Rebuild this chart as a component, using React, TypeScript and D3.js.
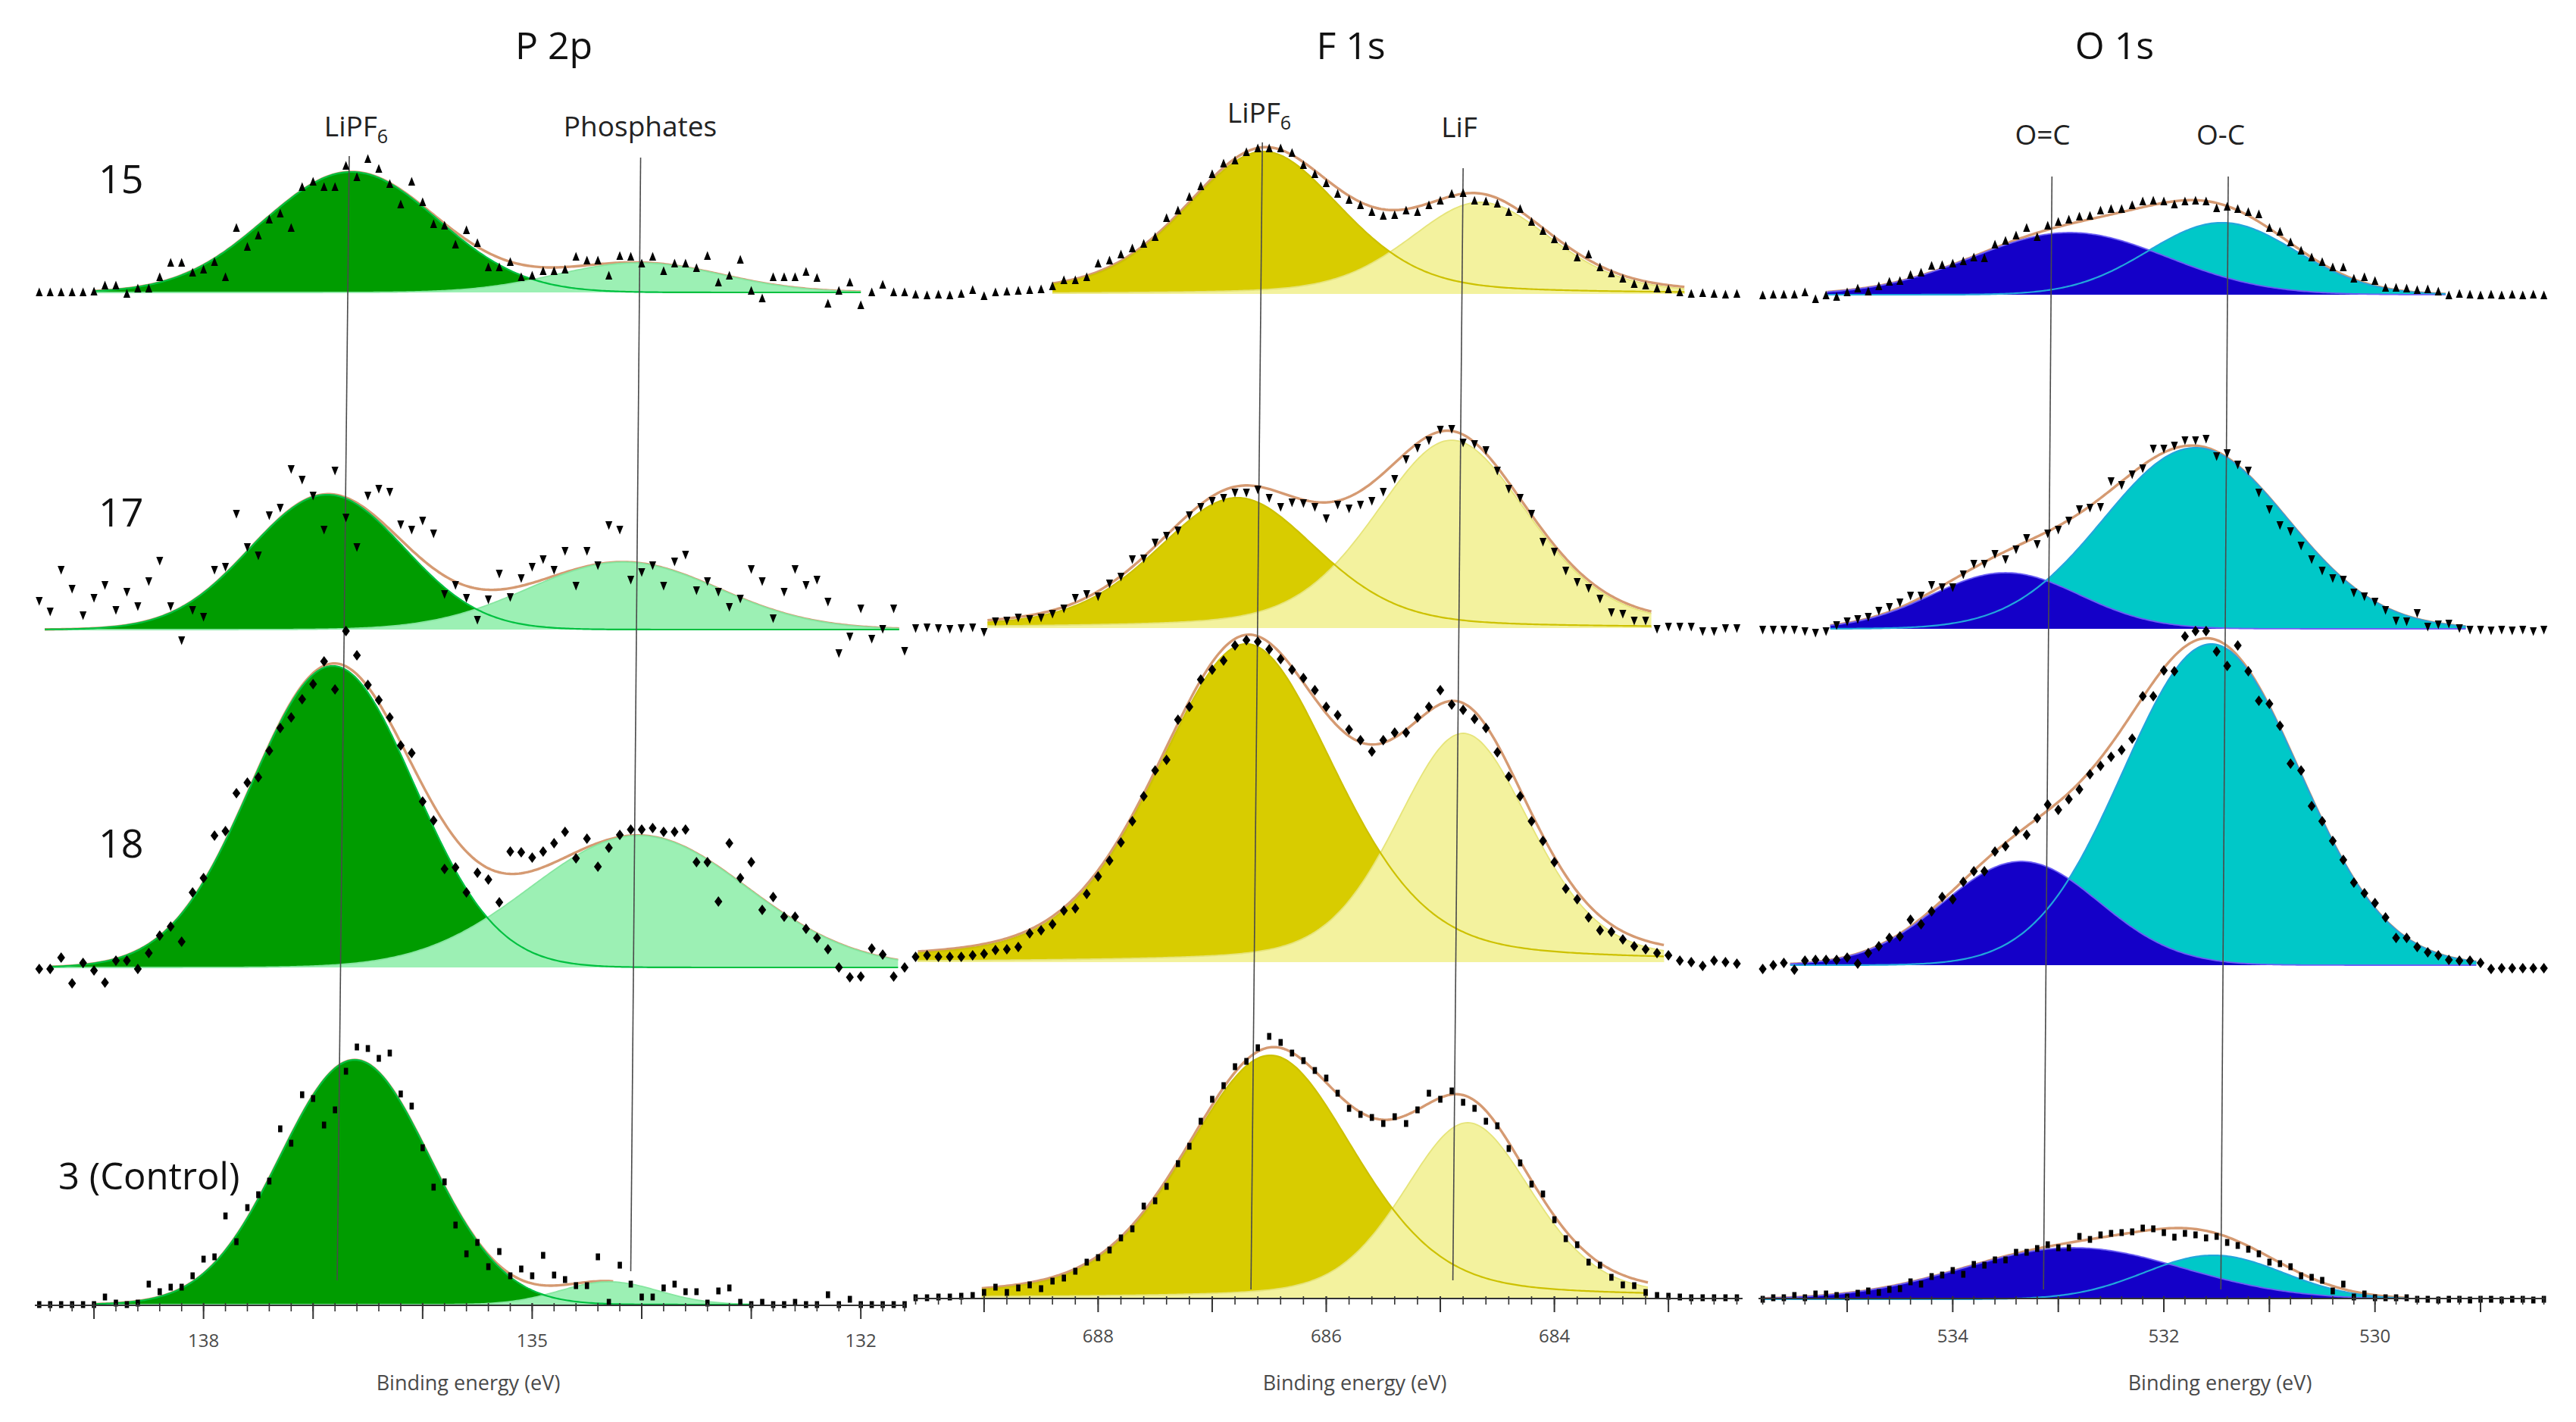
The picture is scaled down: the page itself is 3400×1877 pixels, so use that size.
import React from 'react';
import * as d3 from 'd3';

// ---------------- DATA ----------------
const SAMPLES = ['15', '17', '18', '3 (Control)'];
const STEP = 0.1; // eV between measured points

// P 2p — intensities (a.u.) from START downwards in 0.1 eV steps
const P2P_START = 139.5;
const P2P_15 = [0,0,0,0,0,1,9,9,-2,5,5,20,39,39,26,30,40,20,85,60,75,96,104,85,139,146,139,139,167,152,176,163,143,116,146,119,90,88,63,82,65,33,33,40,20,22,28,28,30,47,42,42,22,48,47,38,47,28,38,38,32,48,13,22,43,2,-8,20,20,20,27,19,-15,2,13,-17,0,10,0,0];
const P2P_17 = [38,24,79,54,19,42,59,26,50,31,64,91,31,-14,26,17,79,83,153,109,98,151,161,212,198,177,132,210,148,109,177,186,182,139,132,144,127,47,59,42,13,40,74,43,68,83,93,79,104,58,104,85,138,132,66,76,85,58,90,99,52,64,50,30,41,80,64,15,50,80,59,66,37,-31,-9,28,-12,1,28,-28];
const P2P_18 = [-2,-2,13,-21,6,-4,-20,9,9,-2,19,42,54,34,99,118,174,180,230,244,251,286,316,330,354,374,404,367,444,412,373,353,330,293,283,219,194,130,132,99,125,116,86,153,152,145,153,164,179,144,170,133,158,175,182,182,184,179,179,182,139,139,87,164,118,139,76,93,67,67,51,39,24,0,-13,-12,25,17,-12,0];
const P2P_3 = [0,0,0,0,0,0,10,2,0,2,27,17,23,23,38,60,63,117,83,128,145,163,232,213,277,272,237,257,308,340,338,325,332,278,262,207,155,162,105,67,82,50,70,38,47,38,65,39,33,25,25,63,3,52,27,10,10,22,27,17,17,2,18,22,3,0,3,0,0,3,0,0,13,0,7,0,0,0,0,0];
// fitted components [centre eV, height, FWHM eV]
const P2P_LIPF6_FIT = [[136.65,159,1.85],[136.87,178,1.65],[136.82,398,1.75],[136.62,323,1.6]];
const P2P_PHOS_FIT = [[134.03,39,1.77],[134.17,89,2.05],[134.03,174,2.33],[134.3,30,1.06]];
const P2P_FIT_RANGE = [[139.0,132.0],[139.45,131.65],[139.4,131.65],[139.0,133.0]];
const P2P_ENV_RANGE = [[139.0,132.0],[139.45,131.65],[139.4,131.65],[139.0,134.25]];
const P2P_PEAK_LINES = [[136.67,136.78],[134.01,134.1]]; // [top eV, bottom eV]
const P2P_MAJOR = [139,138,137,136,135,134,133,132];
const P2P_TICK_LABELS = [138,135,132];

// F 1s
const F1S_START = 689.6;
const F1S_15 = [-1,-2,-1,-2,0,5,-3,2,3,4,5,6,10,18,18,22,40,44,52,60,66,75,100,110,128,142,158,172,176,187,192,192,192,186,170,158,146,132,124,117,108,103,104,110,108,117,123,132,133,123,122,119,108,112,95,83,72,63,48,52,35,27,20,13,11,7,6,2,0,1,0,-1,0];
const F1S_17 = [0,1,0,-1,0,1,-5,9,10,14,12,14,19,26,40,45,42,59,68,91,92,113,122,129,149,160,168,172,179,179,183,172,160,166,165,160,145,163,158,163,168,180,197,223,238,248,262,263,245,243,235,208,184,172,151,114,101,76,61,53,39,21,19,10,10,-1,2,2,2,-4,-4,0,0];
const F1S_18 = [7,9,7,7,7,9,11,16,17,20,38,42,50,68,71,90,113,134,158,186,219,253,267,320,337,373,386,398,418,425,423,413,400,386,375,359,337,326,307,293,278,293,303,303,323,337,359,340,333,321,309,277,245,219,186,160,132,97,83,59,42,40,30,21,17,12,9,2,0,-5,2,0,-2];
const F1S_3 = [0,0,1,1,2,3,7,14,7,13,17,12,22,26,35,47,53,63,79,91,121,128,147,177,200,233,262,280,305,312,330,345,337,323,313,300,290,270,250,242,238,230,239,230,248,270,262,273,258,250,233,227,197,178,150,137,103,78,70,47,43,27,17,16,7,3,2,1,0,0,0,0,0];
const F1S_LIPF6_FIT = [[686.55,188,1.62],[686.78,172,1.67],[686.7,420,1.85],[686.49,320,1.75]];
const F1S_LIF_FIT = [[684.65,121,1.48],[684.9,248,1.6],[684.8,302,1.4],[684.76,231,1.34]];
const F1S_FIT_RANGE = [[688.4,682.85],[688.97,683.15],[689.58,683.03],[689.02,683.17]];
const F1S_PEAK_LINES = [[686.56,686.66],[684.8,684.89]];
const F1S_MAJOR = [689,688,687,686,685,684,683];
const F1S_TICK_LABELS = [688,686,684];

// O 1s
const O1S_START = 535.8;
const O1S_15 = [-1,0,0,0,3,-6,-1,-3,3,8,4,11,17,18,26,29,38,39,41,44,49,48,66,71,78,88,76,91,96,99,103,104,111,113,113,118,123,124,123,119,123,124,123,114,116,113,109,106,88,83,69,58,49,43,36,36,21,23,18,9,9,8,6,7,4,-1,1,0,-1,0,-1,0,-1,0,-1];
const O1S_17 = [-1,-1,-1,-1,-3,-5,-3,5,10,13,16,24,29,35,44,44,58,55,55,72,86,86,99,92,105,120,112,126,131,143,158,160,161,195,190,204,212,238,238,242,249,249,251,228,232,217,209,180,158,137,129,110,92,77,67,65,48,43,36,25,11,10,21,3,6,7,1,-1,-1,-2,-1,-2,-1,-3,-1];
const O1S_18 = [-5,0,3,-6,6,7,7,7,10,2,16,25,36,38,60,54,71,90,87,110,124,124,150,157,177,172,194,212,205,219,232,252,263,275,284,299,355,355,389,388,434,441,441,414,395,422,388,349,345,316,266,257,210,190,164,139,109,95,82,63,36,36,24,17,13,7,6,6,3,-5,-4,-4,-4,-4,-4];
const O1S_3 = [0,2,2,5,2,7,7,5,3,8,11,9,13,14,23,20,30,32,38,33,46,45,52,52,62,62,67,72,68,68,83,79,85,87,88,89,94,93,88,82,87,85,81,83,75,71,66,60,49,47,43,31,29,25,11,20,3,7,2,2,2,2,0,0,-1,0,0,-1,0,0,-1,0,0,-1,0];
const O1S_OC_DOUBLE_FIT = [[532.89,82,2.17],[533.5,74,1.65],[533.35,137,1.74],[532.86,68,2.45]];
const O1S_OC_SINGLE_FIT = [[531.45,95,1.65],[531.7,239,2.05],[531.55,424,1.96],[531.53,58,1.55]];
const O1S_FIT_RANGE = [[535.19,529.33],[535.16,529.13],[535.54,529.03],[535.79,529.68]];
const O1S_PEAK_LINES = [[533.06,533.14],[531.39,531.46]];
const O1S_MAJOR = [535,534,533,532,531,530,529];
const O1S_TICK_LABELS = [534,532,530];

// ---------------- CONFIG (layout / style) ----------------
type Fit = number[];
interface PanelCfg {
  key: string; title: string; titleX: number;
  xDomain: [number, number]; xRange: [number, number];
  axisY: number; tickLabelY: number; axisTitleX: number;
  baselines: number[]; start: number; series: number[][];
  fitA: Fit[]; fitB: Fit[]; mix: number;
  fitRange: number[][]; envRange: number[][];
  peakLines: number[][]; lineTopY: number[]; lineBottomY: number[];
  peakLabels: { text: string; sub?: string; x: number; y: number }[];
  major: number[]; tickLabels: number[];
  fillA: string; fillB: string; lineA: string; lineB: string; aOnTop: boolean;
}

const PANELS: PanelCfg[] = [
  {
    key: 'P', title: 'P 2p', titleX: 731,
    xDomain: [139.54, 131.6], xRange: [46, 1194],
    axisY: 1723, tickLabelY: 1778, axisTitleX: 618,
    baselines: [386, 831, 1277, 1722], start: P2P_START,
    series: [P2P_15, P2P_17, P2P_18, P2P_3],
    fitA: P2P_LIPF6_FIT, fitB: P2P_PHOS_FIT, mix: 0,
    fitRange: P2P_FIT_RANGE, envRange: P2P_ENV_RANGE,
    peakLines: P2P_PEAK_LINES, lineTopY: [206, 208], lineBottomY: [1690, 1678],
    peakLabels: [{ text: 'LiPF', sub: '6', x: 470, y: 180 }, { text: 'Phosphates', x: 845, y: 180 }],
    major: P2P_MAJOR, tickLabels: P2P_TICK_LABELS,
    fillA: '#009c00', fillB: '#9cf0b4', lineA: '#00c040', lineB: '#86e6a0', aOnTop: false,
  },
  {
    key: 'F', title: 'F 1s', titleX: 1783,
    xDomain: [689.61, 682.35], xRange: [1207, 2300],
    axisY: 1714, tickLabelY: 1772, axisTitleX: 1788,
    baselines: [388, 829, 1270, 1713], start: F1S_START,
    series: [F1S_15, F1S_17, F1S_18, F1S_3],
    fitA: F1S_LIPF6_FIT, fitB: F1S_LIF_FIT, mix: 0.3,
    fitRange: F1S_FIT_RANGE, envRange: F1S_FIT_RANGE,
    peakLines: F1S_PEAK_LINES, lineTopY: [188, 222], lineBottomY: [1702, 1690],
    peakLabels: [{ text: 'LiPF', sub: '6', x: 1662, y: 162 }, { text: 'LiF', x: 1926, y: 181 }],
    major: F1S_MAJOR, tickLabels: F1S_TICK_LABELS,
    fillA: '#d8cc00', fillB: '#f3f29e', lineA: '#cdc100', lineB: '#e6e47a', aOnTop: false,
  },
  {
    key: 'O', title: 'O 1s', titleX: 2791,
    xDomain: [535.84, 528.39], xRange: [2321, 3359],
    axisY: 1714, tickLabelY: 1772, axisTitleX: 2930,
    baselines: [389, 830, 1274, 1715], start: O1S_START,
    series: [O1S_15, O1S_17, O1S_18, O1S_3],
    fitA: O1S_OC_DOUBLE_FIT, fitB: O1S_OC_SINGLE_FIT, mix: 0,
    fitRange: O1S_FIT_RANGE, envRange: O1S_FIT_RANGE,
    peakLines: O1S_PEAK_LINES, lineTopY: [233, 233], lineBottomY: [1702, 1702],
    peakLabels: [{ text: 'O=C', x: 2696, y: 191 }, { text: 'O-C', x: 2931, y: 191 }],
    major: O1S_MAJOR, tickLabels: O1S_TICK_LABELS,
    fillA: '#1400c8', fillB: '#00c8c8', lineA: '#6c5ef5', lineB: '#22a6dc', aOnTop: true,
  },
];

const ROW_LABEL_POS = [
  { x: 130, y: 255, size: 52 },
  { x: 130, y: 695, size: 52 },
  { x: 130, y: 1132, size: 52 },
  { x: 77, y: 1570, size: 49 },
];

const ENVELOPE = '#d59a72';
const FONT = "'Open Sans', 'DejaVu Sans', sans-serif";

function profile(e: number, f: Fit, mix: number) {
  const d = (e - f[0]) / f[2];
  return f[1] * ((1 - mix) * Math.exp(-4 * Math.LN2 * d * d) + mix / (1 + 4 * d * d));
}

const MARKERS = [
  'M0,-6.5L4.6,5L-4.6,5Z',
  'M0,6.5L4.6,-5L-4.6,-5Z',
  'M0,-7L5.2,0L0,7L-5.2,0Z',
  'M-2.8,-4.5L2.8,-4.5L2.8,4.5L-2.8,4.5Z',
];

function Panel({ p }: { p: PanelCfg }) {
  const x = d3.scaleLinear().domain(p.xDomain).range(p.xRange);
  const rows = p.series.map((vals, i) => {
    const base = p.baselines[i];
    const y = d3.scaleLinear().domain([0, 100]).range([base, base - 100]);
    const [hi, lo] = p.fitRange[i];
    const es = d3.range(hi, lo - 1e-9, -0.02);
    const fa = (e: number) => profile(e, p.fitA[i], p.mix);
    const fb = (e: number) => profile(e, p.fitB[i], p.mix);
    const area = (f: (e: number) => number) =>
      d3.area<number>().x((e) => x(e)).y0(base).y1((e) => y(f(e)))(es) || '';
    const line = (f: (e: number) => number) =>
      d3.line<number>().x((e) => x(e)).y((e) => y(f(e)))(es) || '';
    const [ehi, elo] = p.envRange[i];
    const envEs = d3.range(ehi, elo - 1e-9, -0.02);
    const env = d3.line<number>().x((e) => x(e)).y((e) => y(fa(e) + fb(e)))(envEs) || '';
    const pts = vals.map((v, k) => ({ e: p.start - k * STEP, v }));
    return { i, y, area, line, env, pts, fa, fb };
  });

  const [d0, d1] = p.xDomain;
  const minor = d3.range(Math.ceil(d1 * 5), Math.floor(d0 * 5) + 1).map((k) => k / 5);

  return (
    <g>
      <text x={p.titleX} y={78} fontSize={50} textAnchor="middle" fill="#111" fontFamily={FONT}>{p.title}</text>
      {p.peakLabels.map((l, j) => (
        <text key={j} x={l.x} y={l.y} fontSize={37} textAnchor="middle" fill="#222" fontFamily={FONT}>
          {l.text}
          {l.sub ? <tspan fontSize={25} dy={9}>{l.sub}</tspan> : null}
        </text>
      ))}
      {rows.map((r) => {
        const first = p.aOnTop ? r.fb : r.fa;
        const second = p.aOnTop ? r.fa : r.fb;
        const fill1 = p.aOnTop ? p.fillB : p.fillA;
        const fill2 = p.aOnTop ? p.fillA : p.fillB;
        const line1 = p.aOnTop ? p.lineA : p.lineB;
        const line2 = p.aOnTop ? p.lineB : p.lineA;
        return (
          <g key={r.i}>
            <path d={r.env} fill="none" stroke={ENVELOPE} strokeWidth={3.4} />
            <path d={r.area(first)} fill={fill1} />
            <path d={r.area(second)} fill={fill2} />
            <path d={r.line(second)} fill="none" stroke={line1} strokeWidth={1.8} />
            <path d={r.line(first)} fill="none" stroke={line2} strokeWidth={2.2} />
          </g>
        );
      })}
      {p.peakLines.map((pl, j) => (
        <line key={j} x1={x(pl[0])} y1={p.lineTopY[j]} x2={x(pl[1])} y2={p.lineBottomY[j]} stroke="#4a4a4a" strokeWidth={1.6} />
      ))}
      {rows.map((r) => (
        <g key={'m' + r.i}>
          {r.pts.map((pt, k) => (
            <path key={k} d={MARKERS[r.i]} transform={`translate(${x(pt.e)},${r.y(pt.v)})`} fill="#000" />
          ))}
        </g>
      ))}
      {/* axis */}
      <line x1={p.xRange[0]} x2={p.xRange[1]} y1={p.axisY} y2={p.axisY} stroke="#333" strokeWidth={2} />
      {minor.map((t) => (
        <line key={'n' + t} x1={x(t)} x2={x(t)} y1={p.axisY - 3} y2={p.axisY + 8} stroke="#333" strokeWidth={1.6} />
      ))}
      {p.major.map((t) => (
        <line key={'j' + t} x1={x(t)} x2={x(t)} y1={p.axisY - 3} y2={p.axisY + 18} stroke="#333" strokeWidth={2} />
      ))}
      {p.tickLabels.map((t) => (
        <text key={'l' + t} x={x(t)} y={p.tickLabelY} fontSize={24} textAnchor="middle" fill="#4a4a4a" fontFamily={FONT}>{t}</text>
      ))}
      <text x={p.axisTitleX} y={1835} fontSize={27} textAnchor="middle" fill="#4a4a4a" fontFamily={FONT}>Binding energy (eV)</text>
    </g>
  );
}

export default function App() {
  return (
    <div>
      <style>{`html,body{margin:0;padding:0;background:#fff}`}</style>
      <svg width={3400} height={1877} viewBox="0 0 3400 1877" style={{ display: 'block' }}>
        <rect width={3400} height={1877} fill="#fff" />
        {PANELS.map((p) => <Panel key={p.key} p={p} />)}
        {SAMPLES.map((s, i) => (
          <text key={s} x={ROW_LABEL_POS[i].x} y={ROW_LABEL_POS[i].y} fontSize={ROW_LABEL_POS[i].size} fill="#111" fontFamily={FONT}>{s}</text>
        ))}
      </svg>
    </div>
  );
}
